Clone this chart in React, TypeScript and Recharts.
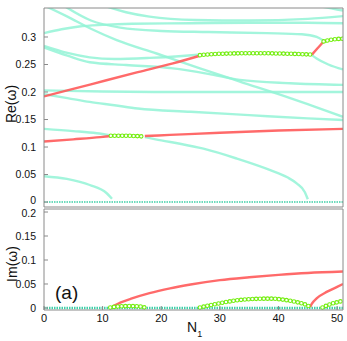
import React from "react";
import { LineChart, Line, XAxis, YAxis } from "recharts";

type Pt = [number, number];

// N1 axis
const xTicks = [0, 10, 20, 30, 40, 50];
const reTicks = [0, 0.05, 0.1, 0.15, 0.2, 0.25, 0.3];
const imTicks = [0, 0.05, 0.1, 0.15, 0.2];

// ---- Re(ω), cyan (real) branches
const reTopA: Pt[] = [[0.3, 0.356], [4, 0.337], [8, 0.315], [12.4, 0.2945], [19.2, 0.27], [26.6, 0.243], [33.4, 0.219], [42, 0.189], [46.5, 0.172], [51, 0.155]];
const reTopB: Pt[] = [[3.5, 0.356], [8, 0.33], [13, 0.317], [20, 0.311], [28, 0.309], [38, 0.307], [44, 0.305], [46.5, 0.3], [47.7, 0.293]];
const reTopC: Pt[] = [[0, 0.307], [3, 0.314], [6, 0.319], [10, 0.322], [15, 0.324], [25, 0.325], [35, 0.326], [45, 0.326], [51, 0.325]];
const reTopD: Pt[] = [[10.5, 0.356], [14, 0.345], [18, 0.337], [25.8, 0.331], [35, 0.33], [45, 0.333], [51, 0.338]];
const reTopE: Pt[] = [[47, 0.356], [49, 0.352], [51, 0.348]];
const reMidA: Pt[] = [[0, 0.284], [4, 0.271], [7.8, 0.263], [12, 0.26], [18, 0.262], [23, 0.265], [26.6, 0.268]];
const reMidB: Pt[] = [[0, 0.281], [4, 0.266], [7.8, 0.254], [14, 0.249], [22, 0.243], [28, 0.233], [33.4, 0.222], [42, 0.216], [51, 0.213]];
const reMidC: Pt[] = [[45.7, 0.267], [46.5, 0.261], [48.5, 0.25], [51, 0.241]];
const reFlat: Pt[] = [[0, 0.203], [10, 0.201], [20, 0.2], [30, 0.2], [40, 0.2], [51, 0.2]];
const reLowA: Pt[] = [[0, 0.196], [4, 0.189], [7.8, 0.182], [12, 0.176], [16, 0.17], [25, 0.164], [35, 0.158], [45, 0.152], [51, 0.149]];
const reLowB: Pt[] = [[0, 0.133], [5, 0.129], [9, 0.125], [11.4, 0.121]];
const reLowC: Pt[] = [[17.2, 0.118], [20, 0.112], [23.2, 0.106], [27.2, 0.097], [32.9, 0.079], [38.6, 0.058], [41.5, 0.045], [43.1, 0.034], [44.5, 0.018], [45, 0.005]];
const reLowD: Pt[] = [[0, 0.047], [3.9, 0.042], [7.8, 0.031], [10.7, 0.016], [11.6, 0.006]];
const reZero: Pt[] = [[0, 0], [51, 0]];

// ---- Re(ω), red branches
const reRedA: Pt[] = [[0, 0.192], [8, 0.214], [16, 0.236], [22, 0.252], [26.6, 0.266]];
const reRedB: Pt[] = [[45.7, 0.268], [46.7, 0.28], [47.7, 0.292]];
const reRedC: Pt[] = [[0, 0.11], [5, 0.114], [9.6, 0.118], [11.4, 0.12]];
const reRedD: Pt[] = [[17.2, 0.12], [21.5, 0.122], [30, 0.126], [40, 0.13], [51, 0.133]];

// ---- Re(ω), green (complex pair) branches
const reGreenA: Pt[] = [[26.6, 0.267], [30, 0.2695], [36, 0.2705], [42, 0.2695], [45.7, 0.268]];
const reGreenB: Pt[] = [[47.7, 0.292], [49, 0.295], [51, 0.297]];
const reGreenC: Pt[] = [[11.4, 0.1205], [14, 0.1205], [17.2, 0.119]];

// ---- Im(ω)
const imZero: Pt[] = [[0, 0], [51, 0]];
const imRedA: Pt[] = [[11.5, 0.001], [12, 0.005], [13, 0.011], [15, 0.02], [18, 0.031], [21.5, 0.041], [25, 0.049], [30, 0.058], [35, 0.064], [40, 0.069], [45, 0.073], [51, 0.076]];
const imRedB: Pt[] = [[45.4, 0.002], [45.7, 0.009], [46.5, 0.02], [48.3, 0.034], [50, 0.044], [51, 0.05]];
const imGreenA: Pt[] = [[11.3, 0.001], [12.5, 0.003], [14.5, 0.004], [16.5, 0.003], [17.2, 0.001]];
const imGreenB: Pt[] = [[26.6, 0.001], [28, 0.005], [30, 0.01], [32.9, 0.016], [36, 0.019], [38.6, 0.0195], [41, 0.017], [43.2, 0.012], [44.8, 0.006], [45.5, 0.001]];
const imGreenC: Pt[] = [[47.5, 0.001], [48.2, 0.005], [49.1, 0.009], [50, 0.012], [51, 0.015]];

const CYAN = "#93f3d6";
const RED = "#ff5a5a";
const GREEN = "#74ee10";
const ZERO = "#3fcfa8";
const AXIS = "#8a8a8a";
const FONT = "'Liberation Sans', Arial, Helvetica, sans-serif";

const rows = (pts: Pt[]) => pts.map(([n, v]) => ({ n, v }));

const base = {
  dataKey: "v",
  xAxisId: "b",
  yAxisId: "l",
  type: "monotone" as const,
  dot: false,
  activeDot: false,
  isAnimationActive: false,
  legendType: "none" as const,
};

function seriesLines(key: string, cyan: Pt[][], red: Pt[][], green: Pt[][], zero: Pt[], zeroWidth: number) {
  const out: React.ReactNode[] = [];
  cyan.forEach((c, i) =>
    out.push(<Line key={`${key}c${i}`} {...base} data={rows(c)} stroke={CYAN} strokeWidth={2.4} strokeOpacity={0.85} />)
  );
  out.push(
    <Line key={`${key}z`} {...base} data={rows(zero)} stroke={ZERO} strokeWidth={zeroWidth} strokeDasharray="1.5 1" />
  );
  red.forEach((c, i) =>
    out.push(<Line key={`${key}r${i}`} {...base} data={rows(c)} stroke={RED} strokeWidth={2.4} strokeOpacity={0.9} />)
  );
  green.forEach((c, i) => {
    out.push(
      <Line key={`${key}g${i}`} {...base} data={rows(c)} stroke={GREEN} strokeWidth={4.6} strokeDasharray="0 3.8" strokeLinecap="round" />
    );
    out.push(
      <Line key={`${key}w${i}`} {...base} data={rows(c)} stroke="#ffffff" strokeWidth={2.4} strokeDasharray="0 3.8" strokeLinecap="round" />
    );
  });
  return out;
}

// y tick label; the two labels that meet between the panels get nudged apart a little
function yTick(nudge: { value: number; dy: number }) {
  return (props: any) => {
    const { x, y, payload } = props;
    const extra = payload.value === nudge.value ? nudge.dy : 0;
    return (
      <text x={x} y={y} dy={3.7 + extra} textAnchor="end" fill="#111" fontSize={10.5} fontFamily={FONT}>
        {String(payload.value)}
      </text>
    );
  };
}

function frameAxes(domain: [number, number], yTicks: number[], showX: boolean, nudge: { value: number; dy: number }) {
  return [
    <XAxis
      key="xb"
      xAxisId="b"
      type="number"
      dataKey="n"
      domain={[0, 51]}
      ticks={xTicks}
      interval={0}
      allowDataOverflow
      stroke={AXIS}
      tickSize={-4}
      tickMargin={8}
      height={showX ? 25 : 1}
      tick={showX ? { fill: "#111", fontSize: 11, fontFamily: FONT } : false}
    />,
    <XAxis
      key="xt"
      xAxisId="t"
      orientation="top"
      type="number"
      dataKey="n"
      domain={[0, 51]}
      ticks={xTicks}
      interval={0}
      allowDataOverflow
      stroke={AXIS}
      tickSize={-4}
      height={1}
      tick={false}
    />,
    <YAxis
      key="yl"
      yAxisId="l"
      type="number"
      domain={domain}
      ticks={yTicks}
      interval={0}
      allowDataOverflow
      stroke={AXIS}
      tickSize={-4}
      tickMargin={12}
      width={44}
      tick={yTick(nudge)}
    />,
    <YAxis
      key="yr"
      yAxisId="r"
      orientation="right"
      type="number"
      domain={domain}
      ticks={yTicks}
      interval={0}
      allowDataOverflow
      stroke={AXIS}
      tickSize={-4}
      width={1}
      tick={false}
    />,
  ];
}

export default function App() {
  return (
    <div style={{ position: "absolute", left: 0, top: 0, width: 347, height: 341, background: "#fff", fontFamily: FONT }}>
      <div style={{ position: "absolute", left: 0, top: 0 }}>
        <LineChart width={347} height={210} margin={{ top: 7, right: 3, bottom: 2, left: 0 }}>
          {frameAxes([-0.009, 0.3527], reTicks, false, { value: 0, dy: -1.5 })}
          {seriesLines(
            "re",
            [reTopA, reTopB, reTopC, reTopD, reTopE, reMidA, reMidB, reMidC, reFlat, reLowA, reLowB, reLowC, reLowD],
            [reRedA, reRedB, reRedC, reRedD],
            [reGreenA, reGreenB, reGreenC],
            reZero,
            1.6
          )}
        </LineChart>
      </div>
      <div style={{ position: "absolute", left: 0, top: 200 }}>
        <LineChart width={347} height={141} margin={{ top: 8, right: 3, bottom: 6, left: 0 }}>
          {frameAxes([-0.0042, 0.2063], imTicks, true, { value: 0.2, dy: 1.5 })}
          {seriesLines("im", [], [imRedA, imRedB], [imGreenA, imGreenB, imGreenC], imZero, 2.6)}
        </LineChart>
      </div>
      <svg width={347} height={341} style={{ position: "absolute", left: 0, top: 0, pointerEvents: "none" }}>
        <text transform="translate(11,104) rotate(-90)" textAnchor="middle" dy="0.35em" fontSize={14} fill="#111" fontFamily={FONT}>
          Re(ω)
        </text>
        <text transform="translate(12,264) rotate(-90)" textAnchor="middle" dy="0.35em" fontSize={14} fill="#111" fontFamily={FONT}>
          Im(ω)
        </text>
        <text x={55} y={299} fontSize={19} fill="#111" fontFamily={FONT}>
          (a)
        </text>
        <text x={187} y={332} fontSize={14} fill="#111" fontFamily={FONT}>
          N<tspan fontSize={9} dy={5}>1</tspan>
        </text>
      </svg>
    </div>
  );
}
